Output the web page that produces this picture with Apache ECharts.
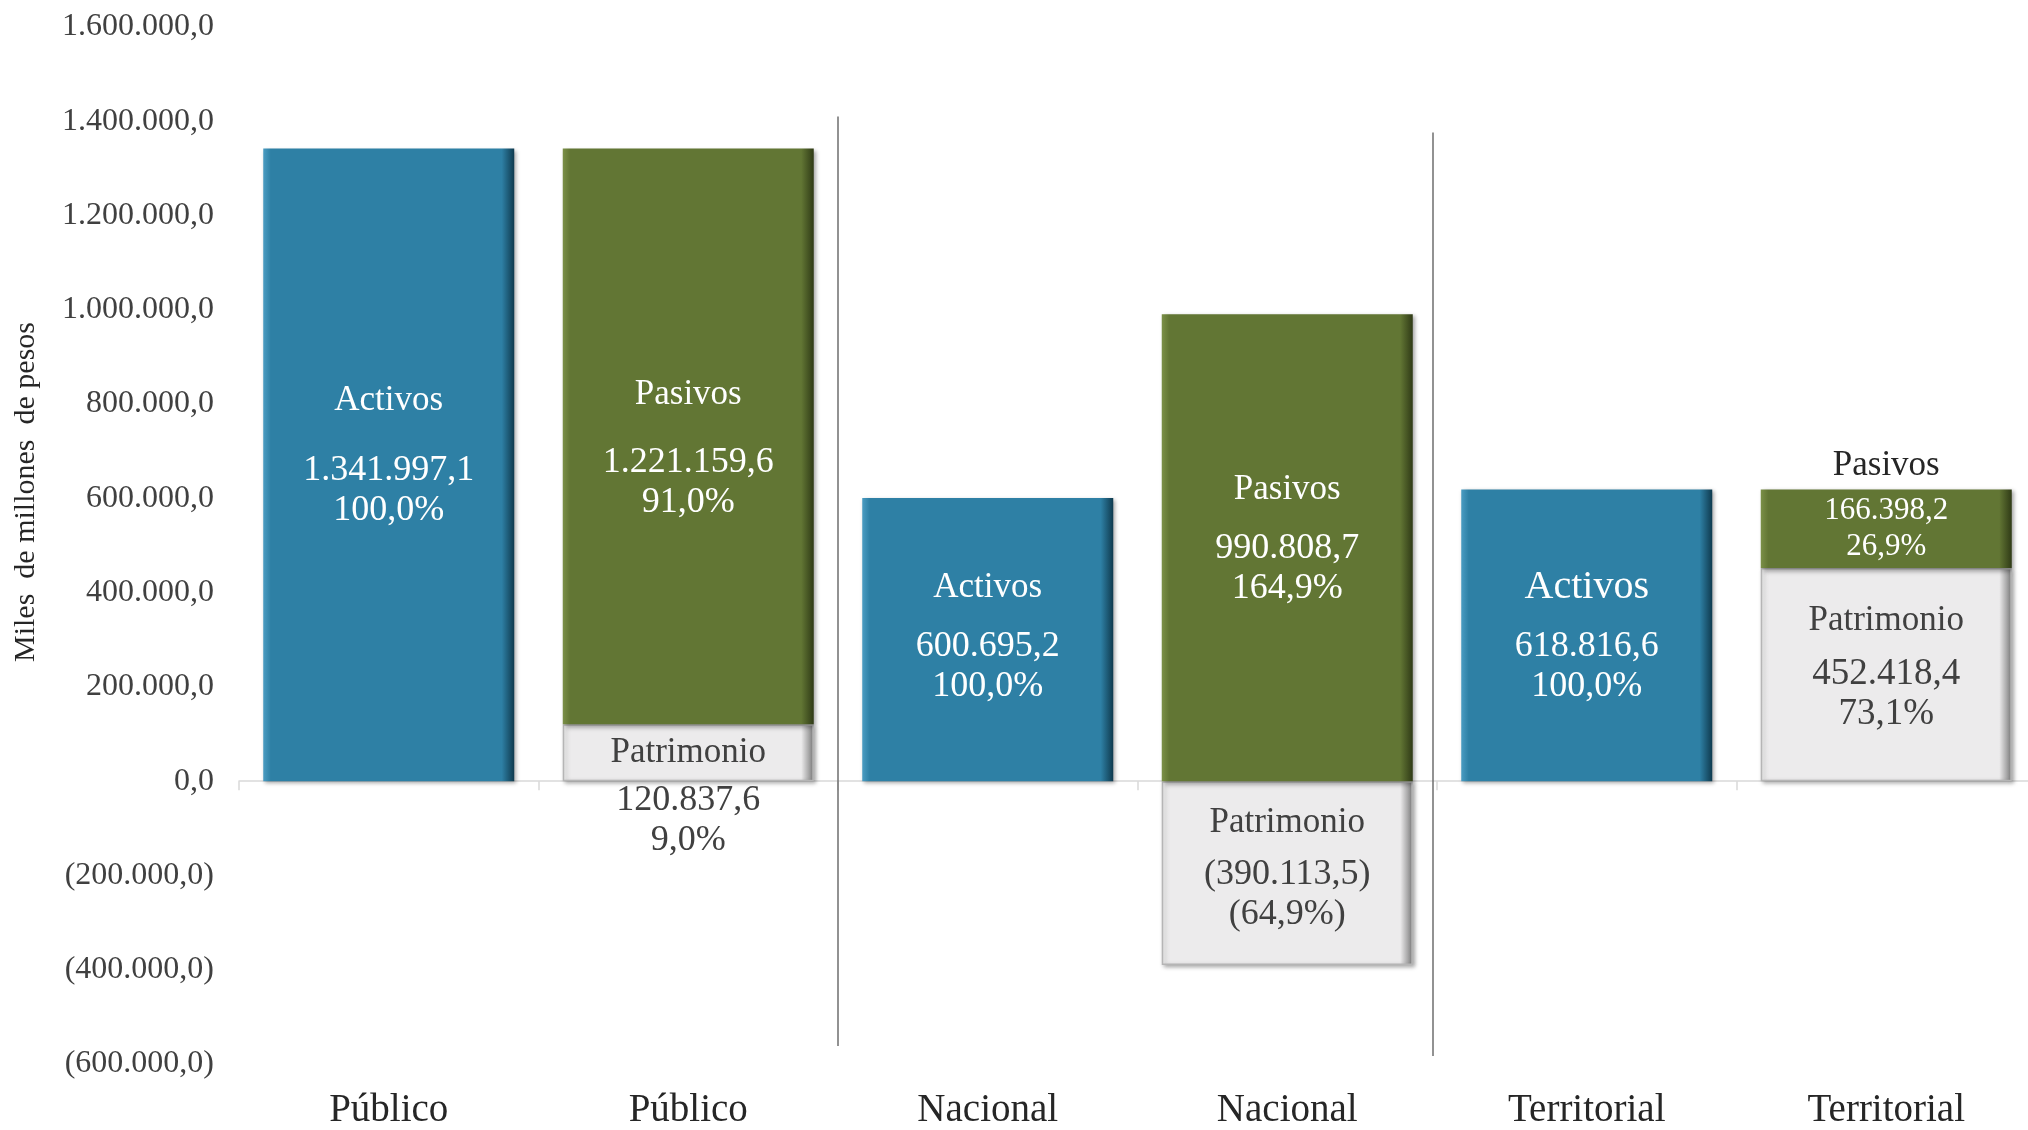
<!DOCTYPE html>
<html lang="es">
<head>
<meta charset="utf-8">
<title>Activos, pasivos y patrimonio</title>
<script src="https://cdn.jsdelivr.net/npm/echarts@6/dist/echarts.min.js"></script>
<style>
  html, body { margin: 0; padding: 0; background: #fff; overflow: hidden; }
  /* a bit wider than the window: the last bar is cut at the right edge */
  #chart { width: 2040px; height: 1130px; }
</style>
</head>
<body>
<div id="chart"></div>
<script>
var categories = ['Público', 'Público', 'Nacional', 'Nacional', 'Territorial', 'Territorial'];
var activos = [1341997.1, null, 600695.2, null, 618816.6, null];
var activosPct = [100.0, null, 100.0, null, 100.0, null];
var pasivos = [null, 1221159.6, null, 990808.7, null, 166398.2];
var pasivosPct = [null, 91.0, null, 164.9, null, 26.9];
var patrimonio = [null, 120837.6, null, -390113.5, null, 452418.4];
var patrimonioPct = [null, 9.0, null, -64.9, null, 73.1];
var yMin = -600000, yMax = 1600000, yStep = 200000;

var FONT = 'Liberation Serif';

// 1.341.997,1  /  (390.113,5)
function num(v) {
  var p = Math.abs(v).toFixed(1).split('.');
  var t = p[0].replace(/\B(?=(\d{3})+(?!\d))/g, '.') + ',' + p[1];
  return v < 0 ? '(' + t + ')' : t;
}
function pct(v) {
  var t = Math.abs(v).toFixed(1).replace('.', ',') + '%';
  return v < 0 ? '(' + t + ')' : t;
}

function rich(nameColor, valColor, nameLH, nameSize, valSize, valLH) {
  return {
    n: { color: nameColor, fontFamily: FONT, fontSize: nameSize || 35, lineHeight: nameLH, verticalAlign: 'middle' },
    v: { color: valColor, fontFamily: FONT, fontSize: valSize || 36, lineHeight: valLH || 40, verticalAlign: 'middle' }
  };
}

// per-bar label tweaks (index -> label options)
function items(vals, pcts, name, tweaks) {
  return vals.map(function (v, i) {
    if (v == null) return '-';
    var it = { value: v, label: { formatter: '{n|' + name + '}\n{v|' + num(v) + '}\n{v|' + pct(pcts[i]) + '}' } };
    if (tweaks[i]) Object.assign(it.label, tweaks[i]);
    return it;
  });
}

var activosData = items(activos, activosPct, 'Activos', {
  0: { offset: [0, -24], rich: rich('#fff', '#fff', 100) },
  2: { offset: [0, -12], rich: rich('#fff', '#fff', 78) },
  4: { offset: [0, -8], rich: rich('#fff', '#fff', 78, 40) }
});
var pasivosData = items(pasivos, pasivosPct, 'Pasivos', {
  1: { offset: [0, -2], rich: rich('#fff', '#fff', 96) },
  3: { offset: [0, -18], rich: rich('#fff', '#fff', 78) },
  5: { offset: [0, -27], rich: rich('#262626', '#fff', 54, 35, 31, 36) }
});
var patrimonioData = items(patrimonio, patrimonioPct, 'Patrimonio', {
  1: { offset: [0, 40], rich: rich('#404040', '#404040', 56) },
  3: { offset: [0, -10], rich: rich('#404040', '#404040', 62) },
  5: { offset: [0, -14], rich: rich('#404040', '#404040', 68, 35, 37) }
});

function bevel(light, base, dark) {
  return {
    type: 'linear', x: 0, y: 0, x2: 1, y2: 0,
    colorStops: [
      { offset: 0, color: light }, { offset: 0.03, color: base },
      { offset: 0.95, color: base }, { offset: 1, color: dark }
    ]
  };
}

var chart = echarts.init(document.getElementById('chart'));
chart.setOption({
  animation: false,
  backgroundColor: '#ffffff',
  grid: { left: 239, top: 27, width: 1797, bottom: 59 },
  graphic: [{
    type: 'text', x: 26, y: 492, rotation: Math.PI / 2,
    style: {
      text: 'Miles  de millones  de pesos', fontFamily: FONT, fontSize: 30,
      fill: '#262626', align: 'center', verticalAlign: 'middle'
    }
  }],
  xAxis: [{
    type: 'category', data: categories, position: 'top',
    axisLine: { onZero: true, lineStyle: { color: '#d9d9d9', width: 1.5 } },
    axisTick: { show: true, inside: true, length: 9, lineStyle: { color: '#d9d9d9', width: 1.5 } },
    axisLabel: { show: false }
  }, {
    type: 'category', data: categories, position: 'bottom',
    axisLine: { show: false, onZero: false },
    axisTick: { show: false },
    axisLabel: { fontFamily: FONT, fontSize: 39, color: '#262626', margin: 27 }
  }, {
    type: 'value', min: 0, max: 6, show: false
  }],
  yAxis: {
    type: 'value', min: yMin, max: yMax, interval: yStep,
    axisLine: { show: false }, axisTick: { show: false }, splitLine: { show: false },
    axisLabel: { fontFamily: FONT, fontSize: 32, color: '#404040', margin: 25, formatter: num }
  },
  series: [{
    name: 'Activos', type: 'bar', stack: 'total', barWidth: 251,
    data: activosData,
    itemStyle: {
      color: bevel('#4a9cc2', '#2e80a5', '#0f3a4e'),
      shadowColor: 'rgba(0,0,0,0.35)', shadowBlur: 4, shadowOffsetX: 2, shadowOffsetY: 2
    },
    label: { show: true, position: 'inside', rich: rich('#fff', '#fff', 80) }
  }, {
    name: 'Patrimonio', type: 'bar', stack: 'total', barWidth: 251,
    data: patrimonioData,
    itemStyle: {
      color: bevel('#fafafa', '#ecebec', '#7a7a7a'),
      borderColor: '#b5b5b5', borderWidth: 1.5,
      shadowColor: 'rgba(0,0,0,0.35)', shadowBlur: 4, shadowOffsetX: 2, shadowOffsetY: 2
    },
    label: { show: true, position: 'inside', rich: rich('#404040', '#404040', 62) }
  }, {
    name: 'Pasivos', type: 'bar', stack: 'total', barWidth: 251,
    data: pasivosData,
    itemStyle: {
      color: bevel('#7b9048', '#627634', '#2f3a16'),
      shadowColor: 'rgba(0,0,0,0.35)', shadowBlur: 4, shadowOffsetX: 2, shadowOffsetY: 2
    },
    label: { show: true, position: 'inside', rich: rich('#fff', '#fff', 86) }
  }, {
    // vertical dividers between the three groups
    type: 'lines', coordinateSystem: 'cartesian2d', xAxisIndex: 2, yAxisIndex: 0,
    silent: true, z: 1,
    lineStyle: { color: '#6e6e6e', width: 1.5, opacity: 1 },
    data: [
      { coords: [[2, 1410000], [2, -562000]] },
      { coords: [[3.985, 1376000], [3.985, -583000]] }
    ]
  }]
});
</script>
</body>
</html>
